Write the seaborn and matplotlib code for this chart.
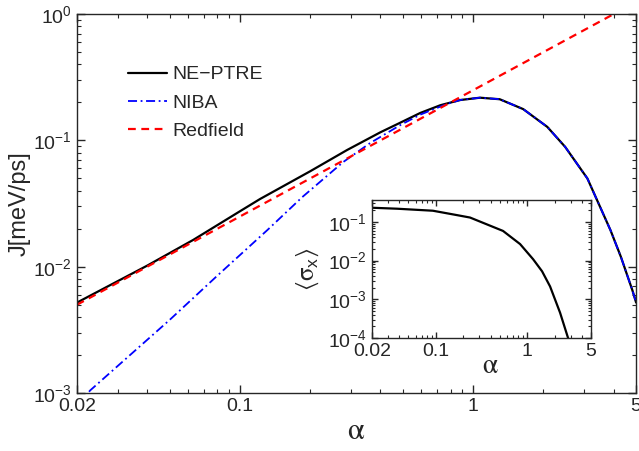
import matplotlib
matplotlib.use('Agg')

import matplotlib.pyplot as plt
import matplotlib.ticker as mticker
import seaborn as sns
import pandas as pd

# main panel: current J vs coupling alpha
alpha_ptre = [0.02, 0.04, 0.063, 0.1, 0.122, 0.2, 0.288, 0.4, 0.486, 0.593, 0.723,
              0.88, 1.07, 1.3, 1.64, 2.08, 2.48, 3.09, 3.88, 4.3, 4.82, 5.0]
j_ptre = [0.0052, 0.0102, 0.0163, 0.0275, 0.0344, 0.057, 0.084, 0.116, 0.138, 0.165, 0.19,
          0.209, 0.218, 0.212, 0.177, 0.128, 0.089, 0.050, 0.0195, 0.012, 0.0065, 0.0052]

alpha_niba = [0.02, 0.0228, 0.05, 0.08, 0.131, 0.185, 0.277, 0.362, 0.486, 0.593, 0.775,
              0.88, 1.07, 1.3, 1.64, 2.08, 2.48, 3.09, 3.88, 4.3, 4.82, 5.0]
j_niba = [0.0008, 0.00105, 0.0038, 0.0085, 0.0195, 0.0356, 0.0674, 0.0955, 0.132, 0.16, 0.195,
          0.209, 0.218, 0.212, 0.177, 0.128, 0.089, 0.050, 0.0195, 0.012, 0.0065, 0.0052]

alpha_red = [0.02, 0.1, 1.0, 4.0]
j_red = [0.005, 0.025, 0.25, 1.0]

# inset: <sigma_x> vs alpha
alpha_sx = [0.02, 0.0376, 0.093, 0.171, 0.237, 0.544, 0.836, 1.16, 1.455, 1.78, 2.29, 2.8, 3.0]
sigma_x = [0.233, 0.22, 0.195, 0.15, 0.13, 0.0586, 0.0268, 0.0109, 0.0053, 0.00215,
           0.00045, 0.0001, 0.00005]

xticks = [0.02, 0.1, 1, 5]
xticklabels = ['0.02', '0.1', '1', '5']

sns.set_style('ticks')
plt.rcParams['font.family'] = ['Liberation Sans', 'DejaVu Sans']
plt.rcParams['mathtext.fontset'] = 'stix'
plt.rcParams['mathtext.default'] = 'regular'
plt.rcParams['axes.linewidth'] = 1.0

df_ptre = pd.DataFrame({'alpha': alpha_ptre, 'J': j_ptre})
df_niba = pd.DataFrame({'alpha': alpha_niba, 'J': j_niba})
df_red = pd.DataFrame({'alpha': alpha_red, 'J': j_red})
df_sx = pd.DataFrame({'alpha': alpha_sx, 'sx': sigma_x})

fig = plt.figure(figsize=(6.39, 4.51), dpi=100)
ax = fig.add_axes([0.1205, 0.1286, 0.875, 0.840])

sns.lineplot(data=df_ptre, x='alpha', y='J', ax=ax, color='black', lw=1.6,
             estimator=None, label='NE\u2212PTRE')
sns.lineplot(data=df_niba, x='alpha', y='J', ax=ax, color='blue', lw=1.3,
             estimator=None, label='NIBA', linestyle=(0, (5, 2, 1, 2)))
sns.lineplot(data=df_red, x='alpha', y='J', ax=ax, color='red', lw=1.6,
             estimator=None, label='Redfield', linestyle=(0, (3.5, 2.5)))

ax.set_xscale('log')
ax.set_yscale('log')
ax.set_xlim(0.02, 5)
ax.set_ylim(1e-3, 1)
ax.xaxis.set_major_locator(mticker.FixedLocator(xticks))
ax.xaxis.set_major_formatter(mticker.FixedFormatter(xticklabels))
ax.xaxis.set_minor_locator(mticker.LogLocator(base=10, subs=range(2, 10)))
ax.xaxis.set_minor_formatter(mticker.NullFormatter())
ax.yaxis.set_minor_locator(mticker.LogLocator(base=10, subs=range(2, 10)))
ax.tick_params(which='both', direction='in', top=True, right=True, labelsize=14)
ax.tick_params(which='major', length=6, width=1)
ax.tick_params(which='minor', length=3, width=0.8)

ax.set_xlabel(r'$\mathrm{\alpha}$', fontsize=22)
ax.xaxis.set_label_coords(0.5, -0.06)
ax.set_ylabel('J[meV/ps]', fontsize=17)
ax.yaxis.set_label_coords(-0.083, 0.5)

ax.legend(loc='upper left', bbox_to_anchor=(0.06, 0.91), frameon=False, fontsize=14,
          handlelength=2.0, handletextpad=0.3, labelspacing=0.55)

# inset
axi = fig.add_axes([0.582, 0.2506, 0.343, 0.306])
sns.lineplot(data=df_sx, x='alpha', y='sx', ax=axi, color='black', lw=1.6, estimator=None)
axi.set_xscale('log')
axi.set_yscale('log')
axi.set_xlim(0.02, 5)
axi.set_ylim(1e-4, 0.37)
axi.xaxis.set_major_locator(mticker.FixedLocator(xticks))
axi.xaxis.set_major_formatter(mticker.FixedFormatter(xticklabels))
axi.xaxis.set_minor_locator(mticker.LogLocator(base=10, subs=range(2, 10)))
axi.xaxis.set_minor_formatter(mticker.NullFormatter())
axi.yaxis.set_major_locator(mticker.LogLocator(base=10, numticks=10))
axi.yaxis.set_minor_locator(mticker.LogLocator(base=10, subs=range(2, 10), numticks=10))
axi.yaxis.set_minor_formatter(mticker.NullFormatter())
axi.tick_params(which='both', direction='in', top=True, right=True, labelsize=14)
axi.tick_params(which='major', length=4, width=1)
axi.tick_params(which='minor', length=2, width=0.8)
axi.set_xlabel(r'$\mathrm{\alpha}$', fontsize=20)
axi.xaxis.set_label_coords(0.54, -0.11)
axi.set_ylabel(r'$\langle\mathrm{\sigma}_x\rangle$', fontsize=18)
axi.yaxis.set_label_coords(-0.23, 0.5)

fig.savefig('out.png', dpi=100)
plt.close(fig)
